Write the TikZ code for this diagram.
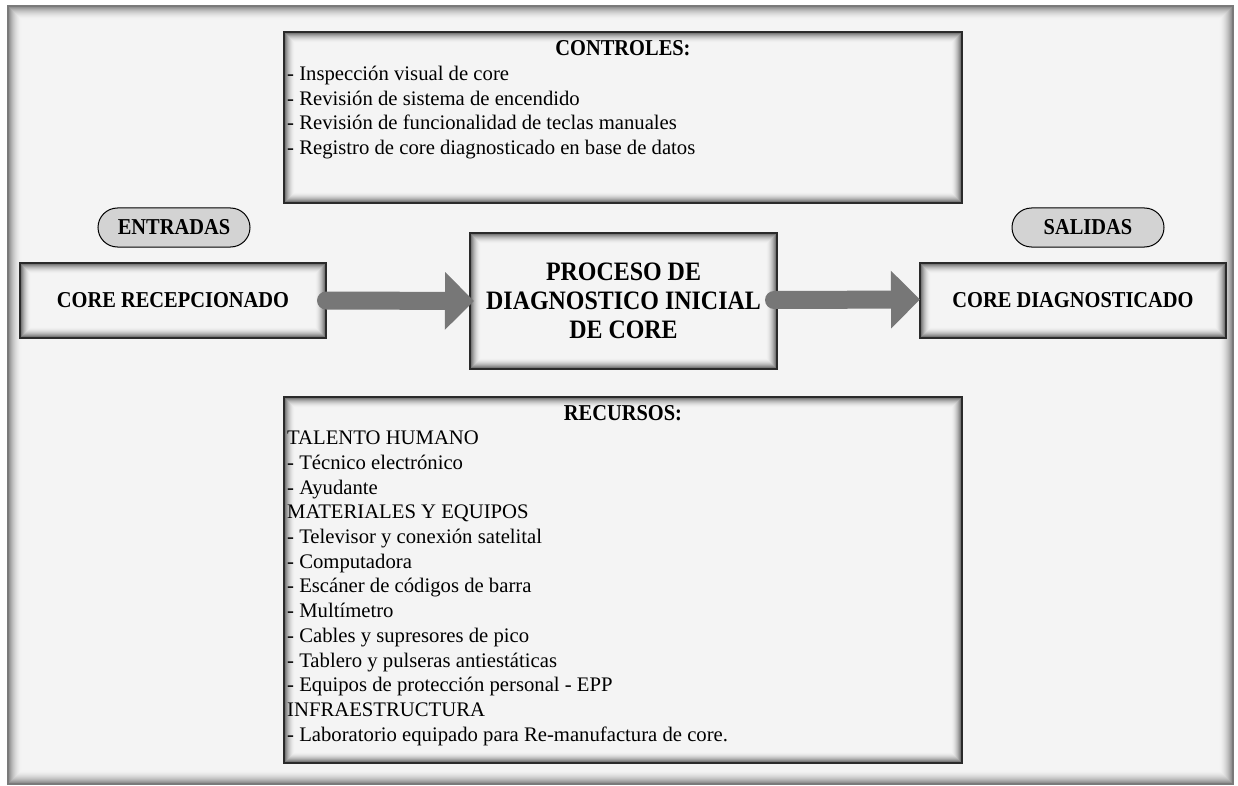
\documentclass[tikz,border=0pt]{standalone}
\usepackage{fontspec}
\setmainfont{Liberation Serif}
\newfontfamily\condserif[FakeStretch=0.9]{Liberation Serif}
\usetikzlibrary{calc,arrows.meta}

\definecolor{paper}{HTML}{F4F4F4}
\definecolor{frameline}{HTML}{7A7A7A}
\definecolor{boxline}{HTML}{2A2A2A}
\definecolor{pillgray}{HTML}{D3D3D3}
\definecolor{arrowgray}{HTML}{777777}

% soft inner shadow along the inside of a rectangular node
\newcommand\innerglow[3]{%
  \foreach \k in {1,...,#2}{%
    \pgfmathsetmacro\op{#3*(1-(\k-1)/#2)^2}%
    \draw[black, opacity=\op, line width=1pt]
      ($(#1.north west)+(\k+0.5,\k+0.5)$) rectangle ($(#1.south east)-(\k+0.5,\k+0.5)$);
  }%
}

\tikzset{
  panel/.style={draw=boxline, line width=2pt, fill=paper, inner sep=0pt, outer sep=0pt},
  outerframe/.style={draw=frameline, line width=2pt, fill=paper, inner sep=0pt, outer sep=0pt},
  pill/.style={draw=black, line width=1pt, fill=pillgray, rounded corners=19.5pt,
    minimum width=152pt, minimum height=39pt, inner sep=0pt,
    font=\condserif\bfseries\fontsize{22.7}{26}\selectfont},
  boxtext/.style={font=\condserif\bfseries\fontsize{22.7}{26}\selectfont},
  proctext/.style={align=center, font=\condserif\bfseries\fontsize{26.6}{29}\selectfont},
  heading/.style={anchor=base, inner sep=0pt, font=\condserif\bfseries\fontsize{22.7}{26}\selectfont},
  item/.style={anchor=base west, inner sep=0pt, font=\fontsize{20.7}{24}\selectfont},
  flow/.style={line width=18pt, draw=arrowgray, line cap=round,
    -{Triangle[length=29pt,width=56pt]}},
}

\begin{document}
\begin{tikzpicture}[x=1pt, y=-1pt]
  \useasboundingbox[fill=white] (0,0) rectangle (1238,786);

  % outer frame
  \node[outerframe, minimum width=1225pt, minimum height=778pt] (frame) at (620.5,395) {};
  \innerglow{frame}{13}{0.40}

  % controls and resources panels
  \node[panel, minimum width=678pt, minimum height=171pt] (ctl) at (623,117.5) {};
  \innerglow{ctl}{10}{0.5}
  \node[panel, minimum width=678pt, minimum height=366pt] (rec) at (623,580) {};
  \innerglow{rec}{10}{0.5}

  % input, process, output
  \node[panel, minimum width=306pt, minimum height=75pt] (in) at (173,300.5) {};
  \innerglow{in}{10}{0.5}
  \node[boxtext] (intext) at (in.center) {CORE RECEPCIONADO};

  \node[panel, minimum width=307pt, minimum height=136pt] (proc) at (623.5,301) {};
  \innerglow{proc}{10}{0.5}
  \node[proctext] (proctxt) at (proc.center) {PROCESO DE\\DIAGNOSTICO INICIAL\\DE CORE};

  \node[panel, minimum width=306pt, minimum height=75pt] (out) at (1073,300.5) {};
  \innerglow{out}{10}{0.5}
  \node[boxtext] (outtext) at (out.center) {CORE DIAGNOSTICADO};

  % tags
  \node[pill] (ent) at (174,227.5) {ENTRADAS};
  \node[pill] (sal) at (1088,227.5) {SALIDAS};

  % flow arrows
  \draw[flow] (in.east) -- ($(proc.west)+(4,0)$);
  \draw[flow] ($(proc.east)+(-3,-1)$) -- ($(out.west)+(0,-1)$);

  % controls list
  \node[heading] (ctlhead) at ($(ctl.north)+(0,24)$) {CONTROLES:};
  \foreach \t [count=\i] in {%
      - Inspección visual de core,
      - Revisión de sistema de encendido,
      - Revisión de funcionalidad de teclas manuales,
      - Registro de core diagnosticado en base de datos}
    \node[item] (ctl\i) at ($(ctl.north west)+(3,{24+24.6*\i})$) {\t};

  % resources list
  \node[heading] (rechead) at ($(rec.north)+(0,23)$) {RECURSOS:};
  \foreach \t [count=\i] in {%
      TALENTO HUMANO,
      - Técnico electrónico,
      - Ayudante,
      MATERIALES Y EQUIPOS,
      - Televisor y conexión satelital,
      - Computadora,
      - Escáner de códigos de barra,
      - Multímetro,
      - Cables y supresores de pico,
      - Tablero y pulseras antiestáticas,
      - Equipos de protección personal - EPP,
      INFRAESTRUCTURA,
      - Laboratorio equipado para Re-manufactura de core.}
    \node[item] (rec\i) at ($(rec.north west)+(3,{23+24.7*\i})$) {\t};
\end{tikzpicture}
\end{document}
